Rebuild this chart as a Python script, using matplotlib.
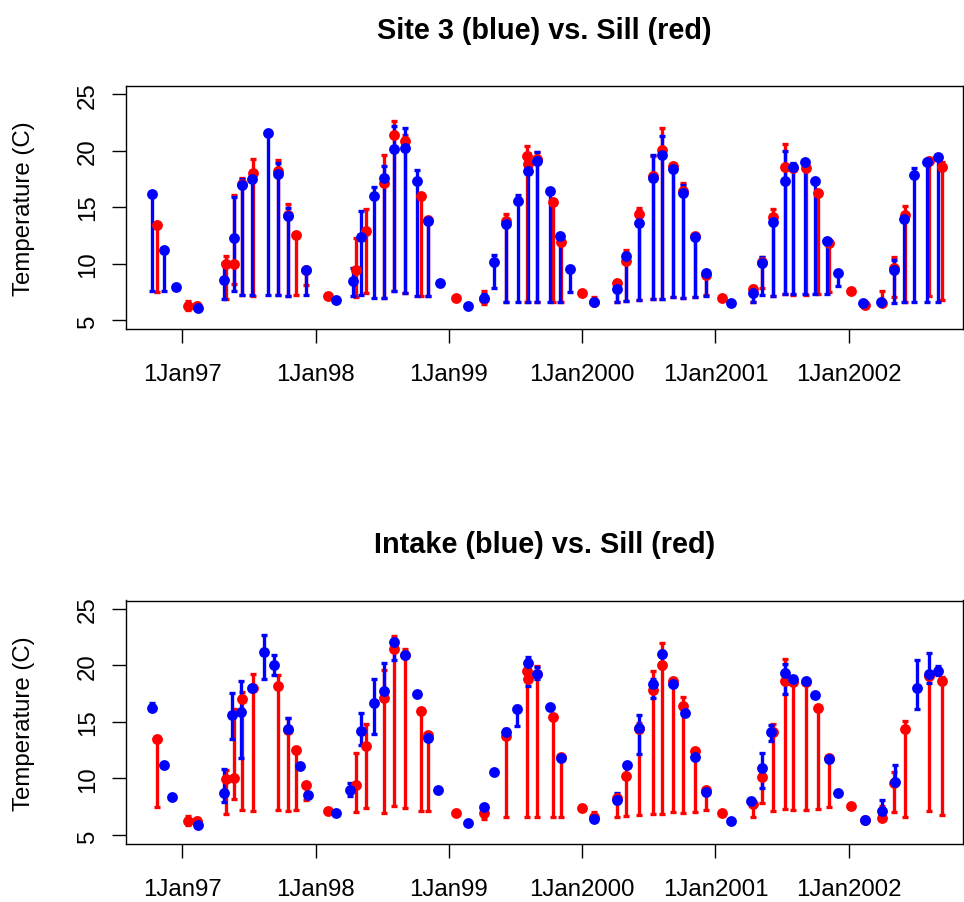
import numpy as np
import matplotlib
matplotlib.use("Agg")
import matplotlib.pyplot as plt

plt.rcParams['font.family'] = ['Liberation Sans', 'DejaVu Sans']

# ---- Sill (red), shared by both panels: time (decimal year), value, min, max
sill_t = [1996.81, 1997.045, 1997.11, 1997.33, 1997.39, 1997.45, 1997.53, 1997.72, 1997.79,
          1997.85, 1997.93, 1998.09, 1998.30, 1998.38, 1998.51, 1998.59, 1998.67, 1998.79,
          1998.84, 1999.05, 1999.26, 1999.43, 1999.585, 1999.59, 1999.66, 1999.78, 1999.84,
          2000.00, 2000.09, 2000.26, 2000.33, 2000.43, 2000.53, 2000.60, 2000.68, 2000.76,
          2000.85, 2000.93, 2001.05, 2001.28, 2001.35, 2001.43, 2001.52, 2001.58, 2001.68,
          2001.77, 2001.85, 2002.02, 2002.12, 2002.25, 2002.34, 2002.42, 2002.60, 2002.70]
sill_v = [13.44, 6.27, 6.2, 9.96, 10.0, 17.04, 17.98, 18.15, 14.3,
          12.55, 9.45, 7.1, 9.42, 12.85, 17.1, 21.4, 20.87, 15.94,
          13.85, 6.92, 6.9, 13.77, 19.5, 18.8, 19.25, 15.42, 11.93,
          7.39, 6.6, 8.24, 10.19, 14.38, 17.77, 20.04, 18.6, 16.39,
          12.4, 9.0, 6.92, 7.74, 10.16, 14.08, 18.57, 18.5, 18.5,
          16.24, 11.78, 7.59, 6.35, 6.5, 9.6, 14.32, 19.04, 18.57]
sill_lo = [7.45, 5.85, 6.0, 6.85, 8.2, 7.2, 7.13, 7.2, 7.13,
           7.2, 8.1, 7.1, 7.0, 7.36, 6.92, 7.54, 7.4, 7.1,
           7.1, 6.92, 6.4, 6.56, 6.56, 18.8, 6.6, 6.56, 6.6,
           7.39, 6.45, 6.56, 6.7, 6.8, 6.86, 6.86, 7.0, 6.95,
           7.07, 7.2, 6.92, 6.56, 7.8, 7.1, 7.3, 7.2, 7.2,
           7.3, 7.5, 7.59, 6.35, 6.3, 7.0, 6.6, 7.15, 6.77]
sill_hi = [13.44, 6.7, 6.5, 10.7, 16.1, 17.6, 19.26, 19.16, 15.3,
           12.55, 9.45, 7.1, 12.26, 14.82, 19.6, 22.58, 21.4, 15.94,
           13.85, 6.92, 7.6, 14.4, 20.4, 18.8, 19.9, 15.42, 11.93,
           7.39, 7.0, 8.4, 11.2, 14.88, 19.5, 21.96, 18.8, 17.15,
           12.4, 9.0, 6.92, 7.97, 10.6, 14.82, 20.58, 18.8, 18.5,
           16.24, 11.78, 7.59, 6.35, 7.6, 10.6, 15.06, 19.3, 19.0]

# ---- Site 3 (blue), top panel
site3_t = [1996.77, 1996.865, 1996.95, 1997.115, 1997.31, 1997.39, 1997.45, 1997.525, 1997.64,
           1997.715, 1997.79, 1997.925, 1998.15, 1998.28, 1998.34, 1998.44, 1998.51, 1998.59,
           1998.67, 1998.76, 1998.84, 1998.935, 1999.145, 1999.26, 1999.335, 1999.43, 1999.515,
           1999.59, 1999.66, 1999.76, 1999.83, 1999.91, 2000.09, 2000.26, 2000.33, 2000.43,
           2000.53, 2000.60, 2000.68, 2000.76, 2000.845, 2000.93, 2001.115, 2001.28, 2001.35,
           2001.43, 2001.52, 2001.58, 2001.67, 2001.75, 2001.84, 2001.92, 2002.11, 2002.245,
           2002.34, 2002.415, 2002.49, 2002.59, 2002.67]
site3_v = [16.15, 11.22, 7.9, 6.06, 8.57, 12.26, 16.95, 17.48, 21.52,
           17.96, 14.23, 9.45, 6.77, 8.48, 12.32, 15.97, 17.57, 20.13,
           20.19, 17.33, 13.76, 8.27, 6.24, 6.98, 10.16, 13.5, 15.5,
           18.16, 19.04, 16.39, 12.46, 9.51, 6.56, 7.74, 10.63, 13.58,
           17.54, 19.6, 18.36, 16.24, 12.37, 9.13, 6.5, 7.4, 10.01,
           13.64, 17.33, 18.51, 18.95, 17.27, 11.96, 9.13, 6.5, 6.56,
           9.42, 13.9, 17.86, 18.95, 19.45]
site3_lo = [7.6, 7.6, 7.9, 6.06, 6.9, 7.6, 7.2, 7.2, 7.2,
            7.2, 7.13, 7.2, 6.77, 7.15, 7.24, 6.92, 6.92, 7.54,
            7.4, 7.1, 7.1, 8.27, 6.24, 6.7, 7.8, 6.56, 6.56,
            6.56, 6.56, 6.56, 6.6, 7.45, 6.56, 6.6, 6.7, 6.8,
            6.86, 6.86, 7.0, 6.95, 7.0, 7.15, 6.5, 6.6, 7.2,
            7.1, 7.3, 7.3, 7.3, 7.3, 7.3, 8.04, 6.5, 6.4,
            6.5, 6.56, 6.56, 6.56, 6.6]
site3_hi = [16.15, 11.22, 7.9, 6.06, 10.04, 15.85, 17.5, 17.48, 21.52,
            18.86, 14.9, 9.45, 6.77, 9.57, 14.65, 16.74, 18.66, 22.2,
            21.96, 18.3, 13.76, 8.27, 6.24, 7.3, 10.78, 13.9, 16.06,
            19.75, 19.9, 16.39, 12.46, 9.51, 6.56, 8.2, 10.9, 14.68,
            19.6, 21.3, 18.36, 16.95, 12.37, 9.13, 6.5, 7.9, 10.55,
            14.29, 19.93, 18.86, 18.95, 17.27, 11.96, 9.13, 6.5, 6.8,
            10.34, 13.9, 18.45, 19.1, 19.6]

# ---- Intake (blue), bottom panel
intake_t = [1996.77, 1996.865, 1996.925, 1997.115, 1997.31, 1997.37, 1997.44, 1997.525, 1997.615,
            1997.69, 1997.79, 1997.88, 1997.945, 1998.15, 1998.26, 1998.34, 1998.44, 1998.515,
            1998.59, 1998.67, 1998.76, 1998.84, 1998.915, 1999.145, 1999.26, 1999.335, 1999.43,
            1999.51, 1999.59, 1999.66, 1999.76, 1999.84, 2000.09, 2000.26, 2000.34, 2000.43,
            2000.53, 2000.60, 2000.68, 2000.77, 2000.85, 2000.93, 2001.115, 2001.27, 2001.35,
            2001.42, 2001.52, 2001.58, 2001.68, 2001.75, 2001.85, 2001.92, 2002.12, 2002.25,
            2002.345, 2002.515, 2002.60, 2002.67]
intake_v = [16.24, 11.22, 8.33, 5.91, 8.72, 15.62, 15.91, 17.98, 21.17,
            20.01, 14.38, 11.13, 8.57, 6.95, 8.98, 14.17, 16.68, 17.71,
            22.05, 20.87, 17.48, 13.55, 9.01, 6.03, 7.51, 10.6, 14.08,
            16.09, 20.22, 19.25, 16.3, 11.81, 6.41, 8.13, 11.22, 14.47,
            18.36, 21.02, 18.36, 15.77, 11.93, 8.78, 6.21, 8.04, 10.93,
            14.14, 19.3, 18.75, 18.6, 17.33, 11.73, 8.72, 6.35, 7.1,
            9.72, 17.98, 19.25, 19.48]
intake_lo = [16.24, 11.22, 8.33, 5.91, 7.9, 13.44, 11.78, 17.98, 18.75,
             19.16, 14.2, 11.13, 8.57, 6.95, 8.48, 12.91, 13.88, 16.89,
             20.49, 20.87, 17.48, 13.55, 9.01, 6.03, 7.51, 10.6, 13.78,
             14.59, 18.16, 18.8, 16.3, 11.81, 6.41, 7.83, 11.22, 12.11,
             17.12, 19.75, 18.36, 15.77, 11.93, 8.78, 6.21, 8.04, 9.16,
             13.29, 17.48, 18.75, 18.6, 17.33, 11.73, 8.72, 6.35, 6.44,
             9.5, 16.15, 18.42, 19.16]
intake_hi = [16.68, 11.22, 8.33, 5.91, 10.84, 17.54, 18.63, 17.98, 22.64,
             20.87, 15.3, 11.13, 8.57, 6.95, 9.57, 15.77, 18.8, 20.19,
             22.35, 20.87, 17.48, 13.55, 9.01, 6.03, 7.51, 10.6, 14.38,
             16.39, 20.72, 19.84, 16.3, 11.81, 6.41, 8.69, 11.22, 15.56,
             18.8, 21.3, 18.36, 15.77, 11.93, 8.78, 6.21, 8.04, 12.26,
             14.68, 20.13, 18.75, 18.6, 17.33, 11.73, 8.72, 6.35, 8.1,
             11.22, 20.43, 21.1, 19.96]

year_ticks = [1997, 1998, 1999, 2000, 2001, 2002]
year_labels = ["1Jan97", "1Jan98", "1Jan99", "1Jan2000", "1Jan2001", "1Jan2002"]
y_ticks = [5, 10, 15, 20, 25]
titles = ["Site 3 (blue) vs. Sill (red)", "Intake (blue) vs. Sill (red)"]

W, H = 964, 903
fig = plt.figure(figsize=(W / 100, H / 100), dpi=100)

FS = 17.3
LW = 2.4
CAP = 2.4
MS = 7.8


def draw_series(ax, t, v, lo, hi, color):
    t = np.asarray(t); v = np.asarray(v); lo = np.asarray(lo); hi = np.asarray(hi)
    m = (hi - lo) > 1e-9
    ax.errorbar(t[m], v[m], yerr=[v[m] - lo[m], hi[m] - v[m]], fmt='none',
                ecolor=color, elinewidth=LW, capsize=CAP, capthick=LW, zorder=2)
    ax.plot(t, v, 'o', color=color, markersize=MS, markeredgewidth=0, zorder=3)


panels = [
    (330, 87, site3_t, site3_v, site3_lo, site3_hi, 31),
    (845, 601.5, intake_t, intake_v, intake_lo, intake_hi, 545),
]
left_px, right_px = 125.5, 963
for (bot_px, top_px, bt, bv, blo, bhi, ty), title in zip(panels, titles):
    ax = fig.add_axes([left_px / W, 1 - bot_px / H, (right_px - left_px) / W, (bot_px - top_px) / H])
    draw_series(ax, sill_t, sill_v, sill_lo, sill_hi, '#FF0000')
    draw_series(ax, bt, bv, blo, bhi, '#0000FF')
    ax.set_xlim(1996.574, 2002.857)
    ax.set_ylim(4.2, 25.72)
    ax.set_xticks(year_ticks)
    ax.set_xticklabels(year_labels, fontsize=FS)
    ax.set_yticks(y_ticks)
    ax.set_yticklabels([str(v) for v in y_ticks], fontsize=FS, rotation=90, va='center')
    ax.tick_params(axis='both', length=10.3, width=1.0, color='black')
    ax.tick_params(axis='x', pad=14)
    ax.tick_params(axis='y', pad=9)
    for s in ax.spines.values():
        s.set_linewidth(1.0)
    yc = (bot_px + top_px) / 2
    fig.text(24 / W, 1 - yc / H, "Temperature (C)", rotation=90, ha='center', va='center', fontsize=FS)
    fig.text((left_px + right_px) / 2 / W, 1 - ty / H, title, ha='center', va='center',
             fontsize=FS * 1.2, fontweight='bold')

fig.savefig("out.png", dpi=100)
